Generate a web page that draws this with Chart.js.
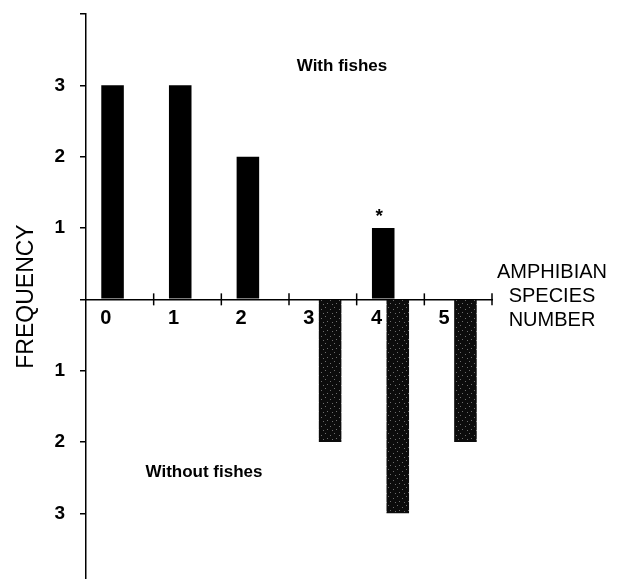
<!DOCTYPE html>
<html>
<head>
<meta charset="utf-8">
<script src="https://cdn.jsdelivr.net/npm/chart.js@4/dist/chart.umd.min.js"></script>
<style>
  html, body { margin: 0; padding: 0; background: #fff; }
  #wrap { width: 621px; height: 579px; }
</style>
</head>
<body>
<div id="wrap"><canvas id="chart"></canvas></div>
<script>
// Datos
const especies = ['0', '1', '2', '3', '4', '5'];
const conPeces = [3, 3, 2, null, 1, null];
const sinPeces = [null, null, null, 2, 3, 2];
const marcaAsterisco = 4; // categoría con asterisco

const FUENTE = '"Liberation Sans", Arial, sans-serif';

// Trama punteada para las barras "sin peces"
function crearTrama() {
    const c = document.createElement('canvas');
    c.width = 9; c.height = 9;
    const g = c.getContext('2d');
    g.fillStyle = '#0c0c0c';
    g.fillRect(0, 0, 9, 9);
    g.fillStyle = '#6e6e6e';
    [[1, 1], [6, 3], [3, 6], [8, 7]].forEach(([x, y]) => g.fillRect(x, y, 1, 1));
    return g.createPattern(c, 'repeat');
}

const anotaciones = {
    id: 'anotaciones',
    afterDraw(chart) {
        const ctx = chart.ctx;
        const xs = chart.scales.x;
        const ys = chart.scales.y;
        const y0 = ys.getPixelForValue(0);
        ctx.save();
        // marcas del eje x que cruzan la línea
        ctx.strokeStyle = '#000';
        ctx.lineWidth = 1.5;
        const paso = xs.width / especies.length;
        for (let k = 1; k <= especies.length; k++) {
            const x = xs.left + k * paso;
            ctx.beginPath();
            ctx.moveTo(x, y0 - 6);
            ctx.lineTo(x, y0 + 6);
            ctx.stroke();
        }
        ctx.fillStyle = '#000';
        ctx.textAlign = 'center';
        ctx.textBaseline = 'middle';
        // asterisco sobre la barra
        const barra = chart.getDatasetMeta(0).data[marcaAsterisco];
        ctx.font = 'bold 19px ' + FUENTE;
        ctx.fillText('*', barra.x - 4, barra.y - 11);
        // rótulos
        ctx.font = 'bold 17px ' + FUENTE;
        ctx.fillText('With fishes', xs.left + 256, ys.getPixelForValue(3.27));
        ctx.fillText('Without fishes', xs.left + 118, ys.getPixelForValue(-2.42));
        ctx.font = '20px ' + FUENTE;
        ['AMPHIBIAN', 'SPECIES', 'NUMBER'].forEach((t, i) => {
            ctx.fillText(t, xs.right + 60, y0 - 27 + i * 24);
        });
        ctx.restore();
    }
};

new Chart(document.getElementById('chart'), {
    type: 'bar',
    data: {
        labels: especies,
        datasets: [
            {
                label: 'With fishes',
                data: conPeces,
                backgroundColor: '#000'
            },
            {
                label: 'Without fishes',
                data: sinPeces.map(v => v === null ? null : -v),
                backgroundColor: crearTrama()
            }
        ]
    },
    options: {
        responsive: true,
        maintainAspectRatio: false,
        animation: false,
        categoryPercentage: 0.43,
        barPercentage: 1.55,
        layout: { padding: { top: 14, right: 129, left: 0, bottom: 0 } },
        plugins: {
            legend: { display: false },
            tooltip: { enabled: false }
        },
        scales: {
            x: {
                position: { y: 0 },
                offset: true,
                grid: { display: true, drawOnChartArea: false, drawTicks: false },
                border: { color: '#000', width: 1.5 },
                ticks: {
                    color: '#000',
                    font: { family: FUENTE, size: 20, weight: 'bold' },
                    padding: 7,
                    labelOffset: -14,
                    maxRotation: 0
                },
                afterFit(s) {
                    s.height = 0;
                    s.paddingLeft = 0;
                    s.paddingRight = 0;
                }
            },
            y: {
                min: -3.92,
                max: 4,
                ticks: {
                    stepSize: 1,
                    color: '#000',
                    font: { family: FUENTE, size: 19, weight: 'bold' },
                    padding: 15,
                    callback: v => (v === 0 || v === 4) ? '' : Math.abs(v)
                },
                grid: { drawOnChartArea: false, tickLength: 6, color: '#000', lineWidth: 1.5 },
                border: { color: '#000', width: 1.5 },
                title: {
                    display: true,
                    text: 'FREQUENCY',
                    color: '#000',
                    font: { family: FUENTE, size: 23 },
                    padding: { top: 13 }
                },
                afterBuildTicks(s) {
                    s.ticks = s.ticks.filter(t => Number.isInteger(t.value));
                },
                afterFit(s) {
                    s.width = 86;
                    s.paddingTop = 0;
                    s.paddingBottom = 0;
                }
            }
        }
    },
    plugins: [anotaciones]
});
</script>
</body>
</html>
